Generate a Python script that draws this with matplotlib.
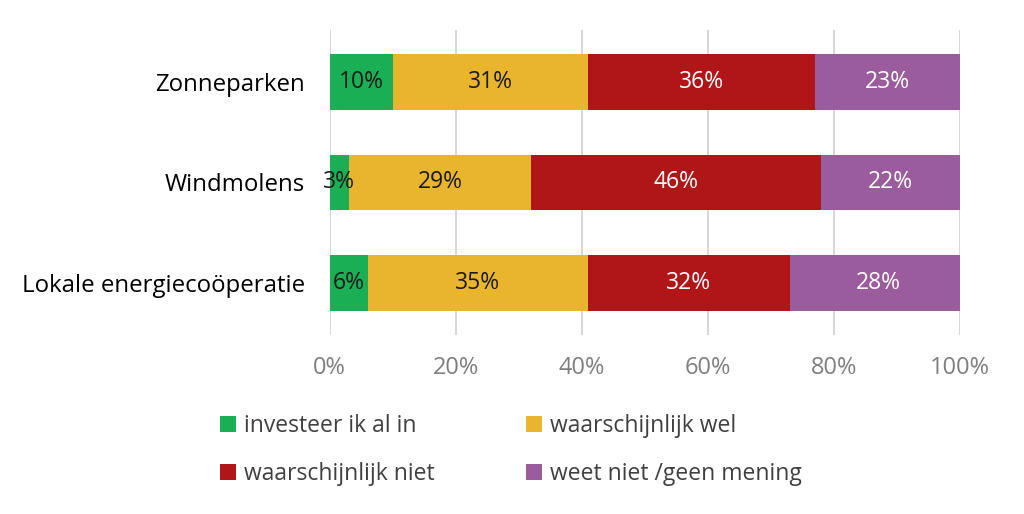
import numpy as np
import matplotlib.pyplot as plt
from matplotlib.patches import Patch

# data
categories = ["Zonneparken", "Windmolens", "Lokale energiecoöperatie"]
series = ["investeer ik al in", "waarschijnlijk wel", "waarschijnlijk niet", "weet niet /geen mening"]
values = [
    [10, 3, 6],
    [31, 29, 35],
    [36, 46, 32],
    [23, 22, 28],
]
colors = ["#1aaf54", "#e8b52c", "#b01518", "#9a5c9c"]
text_colors = ["#1a1a1a", "#1a1a1a", "white", "white"]
xticks = [0, 20, 40, 60, 80, 100]

plt.rcParams['font.family'] = ['Open Sans', 'DejaVu Sans']

fig = plt.figure(figsize=(10.24, 5.14), dpi=100)
ax = fig.add_axes([0.322, 0.348, 0.6155, 0.594])

y = np.arange(len(categories))
left = np.zeros(len(categories))
for vals, col, tcol in zip(values, colors, text_colors):
    vals = np.array(vals, dtype=float)
    ax.barh(y, vals, left=left, height=0.55, color=col, zorder=2)
    for yi, l, v in zip(y, left, vals):
        ax.text(l + v / 2, yi, f"{int(v)}%", ha="center", va="center",
                color=tcol, fontsize=16.5, zorder=3)
    left += vals

ax.set_xlim(0, 100)
ax.set_ylim(2.52, -0.52)
ax.set_yticks(y)
ax.set_yticklabels(categories, fontsize=17.3, color="black")
ax.set_xticks(xticks)
ax.set_xticklabels([f"{t}%" for t in xticks], fontsize=17, color="#7f7f7f")
ax.tick_params(axis="both", length=0)
ax.tick_params(axis="x", pad=15)
ax.tick_params(axis="y", pad=18)
ax.grid(axis="x", color="#d0d0d0", linewidth=1.2, zorder=0)
for s in ax.spines.values():
    s.set_visible(False)

# legend filled row by row
order = [0, 2, 1, 3]
handles = [Patch(facecolor=colors[i], edgecolor="none") for i in order]
labels = [series[i] for i in order]
fig.legend(handles, labels, loc="upper left", bbox_to_anchor=(0.195, 0.234),
           ncol=2, frameon=False, fontsize=16.5, handlelength=0.7, handleheight=0.7,
           handletextpad=0.35, labelspacing=1.05, columnspacing=3.95,
           labelcolor="#404040")

fig.savefig("out.png", dpi=100)
